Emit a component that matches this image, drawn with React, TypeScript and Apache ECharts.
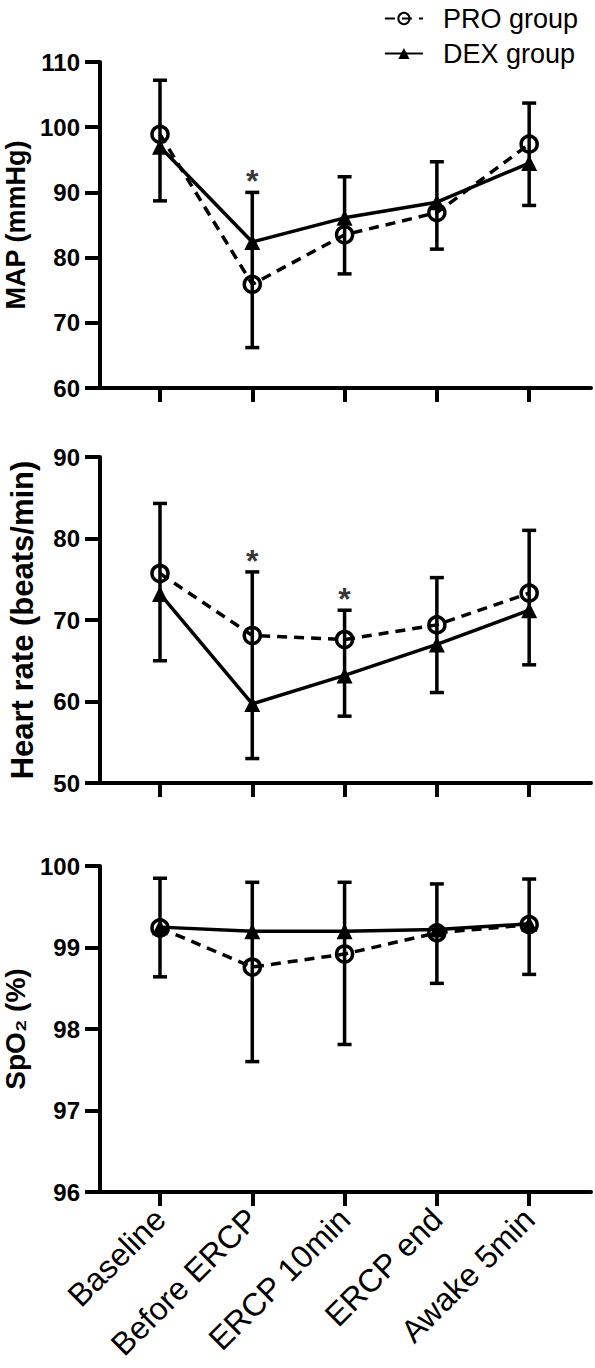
import React, { useEffect, useRef } from "react";
import * as echarts from "echarts";

const categories = ["Baseline", "Before ERCP", "ERCP 10min", "ERCP end", "Awake 5min"];

const mapPro = [98.9, 75.9, 83.5, 86.9, 97.4];
const mapDex = [97.0, 82.4, 86.1, 88.5, 94.5];
const mapErrHigh = [107.2, 90.0, 92.4, 94.7, 103.7];
const mapErrLow = [88.7, 66.2, 77.5, 81.3, 88.0];
const mapSig = [false, true, false, false, false];

const hrPro = [75.7, 68.1, 67.6, 69.4, 73.3];
const hrDex = [73.2, 59.7, 63.2, 67.0, 71.2];
const hrErrHigh = [84.3, 75.9, 71.2, 75.2, 81.0];
const hrErrLow = [65.0, 53.0, 58.2, 61.1, 64.5];
const hrSig = [false, true, true, false, false];

const spoPro = [99.24, 98.76, 98.92, 99.18, 99.28];
const spoDex = [99.25, 99.2, 99.2, 99.22, 99.29];
const spoErrHigh = [99.85, 99.8, 99.8, 99.78, 99.84];
const spoErrLow = [98.64, 97.6, 97.81, 98.56, 98.67];
const spoSig = [false, false, false, false, false];

const FONT = "'Liberation Sans', Arial, sans-serif";
const AXW = 4;
const LW = 3.5;

type Panel = {
  pro: number[];
  dex: number[];
  hi: number[];
  lo: number[];
  sig: boolean[];
  min: number;
  max: number;
  interval: number;
  name: string;
  nameSize: number;
  nameGap: number;
};

const panels: Panel[] = [
  { pro: mapPro, dex: mapDex, hi: mapErrHigh, lo: mapErrLow, sig: mapSig, min: 60, max: 110, interval: 10, name: "MAP (mmHg)", nameSize: 27, nameGap: 66 },
  { pro: hrPro, dex: hrDex, hi: hrErrHigh, lo: hrErrLow, sig: hrSig, min: 50, max: 90, interval: 10, name: "Heart rate (beats/min)", nameSize: 31, nameGap: 62 },
  { pro: spoPro, dex: spoDex, hi: spoErrHigh, lo: spoErrLow, sig: spoSig, min: 96, max: 100, interval: 1, name: "SpO\u2082 (%)", nameSize: 28, nameGap: 62 },
];

const gridTops = [62, 457, 866];

export default function App() {
  const ref = useRef<HTMLDivElement>(null);
  useEffect(() => {
    const chart = echarts.init(ref.current!, null, { renderer: "svg" });
    const idx = [0, 1, 2, 3, 4];
    const grid = gridTops.map((t) => ({
      left: 100,
      top: t,
      width: 491,
      height: 326,
      containLabel: false,
      outerBoundsMode: "none",
    }));
    const xAxis = panels.map((_, i) => ({
      type: "value",
      gridIndex: i,
      min: -0.65,
      max: 4.67,
      splitLine: { show: false },
      axisLine: { show: true, onZero: false, lineStyle: { color: "#000", width: AXW } },
      axisTick: { show: true, customValues: idx, length: 14, lineStyle: { color: "#000", width: AXW } },
      axisLabel: {
        show: i === 2,
        customValues: idx,
        formatter: (v: number) => categories[Math.round(v)] ?? "",
        rotate: 45,
        margin: 22,
        fontSize: 32,
        color: "#000",
        fontFamily: FONT,
      },
    }));
    const yAxis = panels.map((p, i) => ({
      type: "value",
      gridIndex: i,
      min: p.min,
      max: p.max,
      interval: p.interval,
      splitLine: { show: false },
      axisLine: { show: true, onZero: false, lineStyle: { color: "#000", width: AXW } },
      axisTick: { show: true, length: 15, lineStyle: { color: "#000", width: AXW } },
      axisLabel: { fontSize: 24, fontWeight: "bold", color: "#000", fontFamily: FONT, margin: 20 },
      name: p.name,
      nameLocation: "middle",
      nameRotate: 90,
      nameGap: p.nameGap,
      nameTextStyle: { fontSize: p.nameSize, fontWeight: "bold", color: "#000", fontFamily: FONT },
    }));
    const series: any[] = [];
    panels.forEach((p, i) => {
      series.push({
        type: "custom",
        xAxisIndex: i,
        yAxisIndex: i,
        z: 1,
        data: idx.map((k) => [k, p.lo[k], p.hi[k]]),
        encode: { x: 0, y: [1, 2] },
        renderItem: (params: any, api: any) => {
          const x = api.value(0);
          const pHi = api.coord([x, api.value(2)]);
          const pLo = api.coord([x, api.value(1)]);
          const w = 7;
          const st = { stroke: "#000", lineWidth: LW };
          return {
            type: "group",
            children: [
              { type: "line", shape: { x1: pHi[0], y1: pHi[1], x2: pLo[0], y2: pLo[1] }, style: st },
              { type: "line", shape: { x1: pHi[0] - w, y1: pHi[1], x2: pHi[0] + w, y2: pHi[1] }, style: st },
              { type: "line", shape: { x1: pLo[0] - w, y1: pLo[1], x2: pLo[0] + w, y2: pLo[1] }, style: st },
            ],
          };
        },
      });
      series.push({
        type: "line",
        name: "DEX group",
        xAxisIndex: i,
        yAxisIndex: i,
        z: 3,
        data: idx.map((k) => [k, p.dex[k]]),
        symbol: "triangle",
        symbolSize: 16,
        lineStyle: { color: "#000", width: LW },
        itemStyle: { color: "#000" },
      });
      series.push({
        type: "line",
        name: "PRO group",
        xAxisIndex: i,
        yAxisIndex: i,
        z: 4,
        data: idx.map((k) => [k, p.pro[k]]),
        symbol: "circle",
        symbolSize: 16,
        showAllSymbol: true,
        lineStyle: { color: "#000", width: LW, type: [10, 7] },
        itemStyle: { color: "rgba(255,255,255,0)", borderColor: "#000", borderWidth: LW },
      });
      series.push({
        type: "scatter",
        xAxisIndex: i,
        yAxisIndex: i,
        z: 5,
        symbolSize: 0,
        silent: true,
        data: idx.filter((k) => p.sig[k]).map((k) => [k, p.hi[k]]),
        label: {
          show: true,
          position: "top",
          distance: -5,
          formatter: "*",
          fontSize: 32,
          fontWeight: "bold",
          color: "#000",
          fontFamily: FONT,
        },
      });
    });
    chart.setOption({
      animation: false,
      backgroundColor: "#fff",
      legend: {
        data: ["PRO group", "DEX group"],
        orient: "vertical",
        right: 12,
        top: 0,
        itemWidth: 38,
        itemHeight: 14,
        itemGap: 8,
        textStyle: { fontSize: 27, color: "#000", fontFamily: FONT, padding: [0, 0, 0, 15] },
      },
      grid,
      xAxis,
      yAxis,
      series,
    });
    return () => chart.dispose();
  }, []);
  return <div ref={ref} style={{ position: "fixed", left: 0, top: 0, width: 595, height: 1368 }} />;
}
